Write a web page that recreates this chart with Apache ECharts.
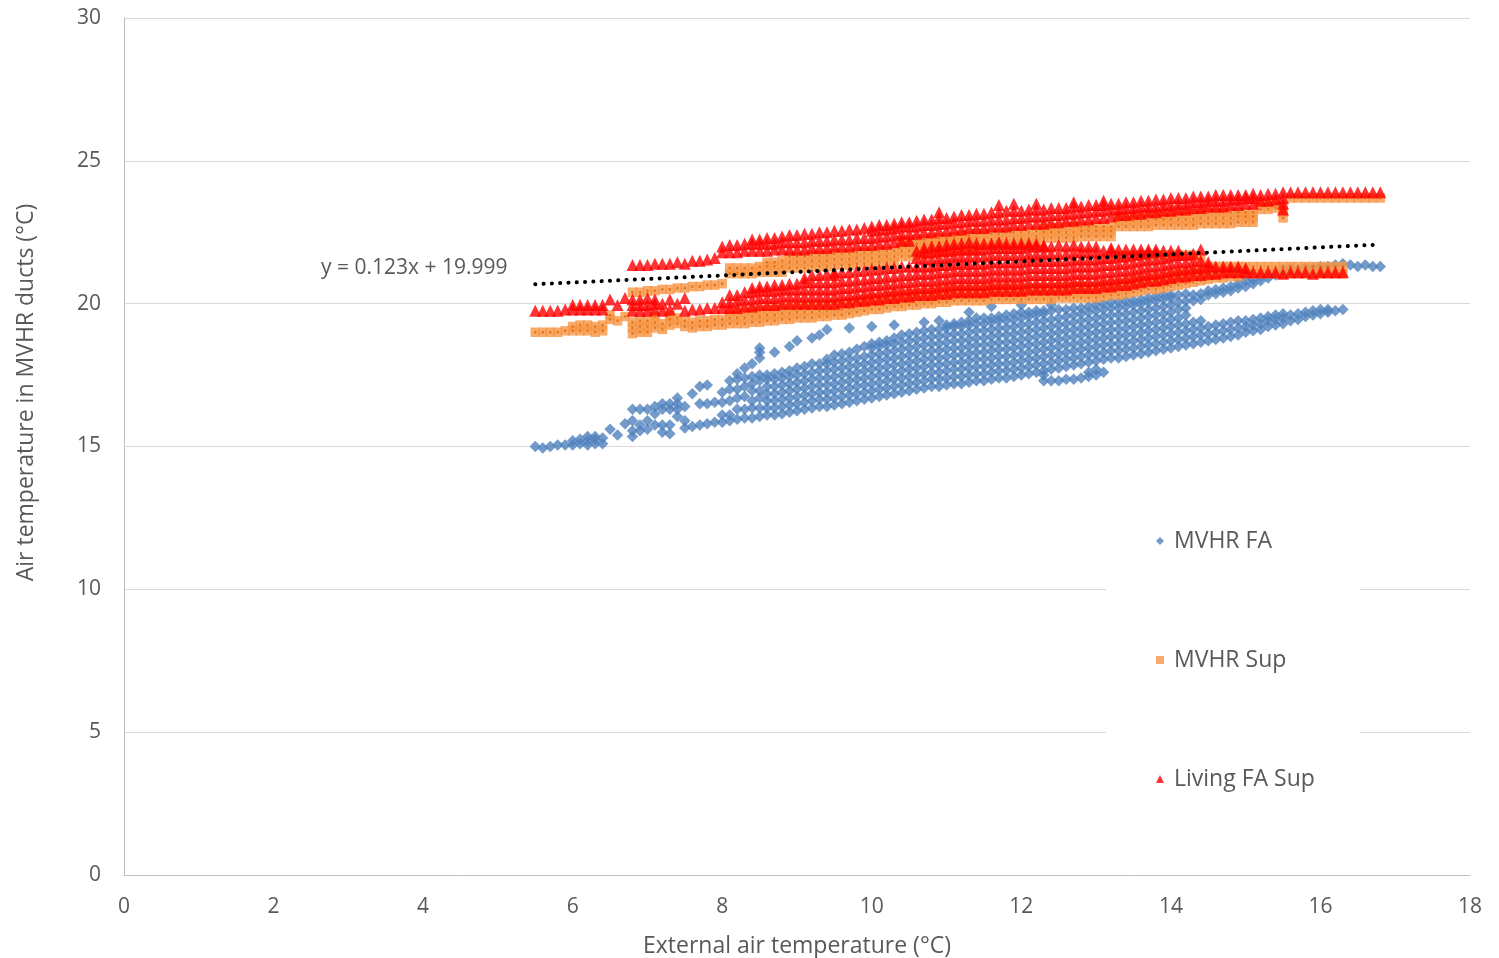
<!DOCTYPE html>
<html><head><meta charset="utf-8">
<script src="https://cdn.jsdelivr.net/npm/echarts@6/dist/echarts.min.js"></script>
<style>html,body{margin:0;padding:0;background:#fff}#c{width:1499px;height:958px}</style>
</head><body><div id="c"></div><script>
// MVHR FA (blue diamonds): [x, [y values]]
const faCols = [
[5.5,[15.0]],[5.6,[14.95]],[5.7,[15.0]],[5.8,[15.05]],[5.9,[15.05]],
[6.0,[15.05,15.2]],[6.1,[15.1,15.25]],[6.2,[15.05,15.2,15.35]],[6.3,[15.1,15.25,15.35]],[6.4,[15.1,15.3]],
[6.5,[15.6]],[6.6,[15.4]],[6.7,[15.8]],
[6.8,[15.35,15.55,15.9,16.3]],[6.9,[15.55,15.75,16.3]],[7.0,[15.6,15.9,16.3]],[7.1,[15.75,16.15,16.4]],[7.2,[15.5,15.75,16.3,16.5]],[7.3,[15.45,15.75,16.3,16.5]],[7.4,[16.05,16.3,16.5,16.7]],[7.5,[15.65,15.9,16.4]],
[7.6,[15.7,16.85]],[7.7,[15.75,16.5,17.1]],[7.8,[15.8,16.5,17.15]],[7.9,[15.85,16.55]],[8.0,[15.85,16.1,16.55,16.9]],
[8.1,[15.9,16.1,16.6,17.0,17.3]],[8.2,[15.95,16.3,16.7,17.0,17.35,17.55]],[8.3,[16.0,16.3,16.75,17.1,17.4,17.75]],[8.4,[16.0,16.35,16.6,16.95,17.2,17.45,17.9]],[8.5,[16.05,16.35,16.7,16.95,17.3,17.5,18.1,18.3,18.45]],
[8.6,[16.1,16.35,16.6,16.85,17.1,17.35,17.5]],
[8.7,[16.1,16.35,16.6,16.85,17.1,17.35,17.55,18.3]],
[8.8,[16.15,16.4,16.65,16.9,17.15,17.4,17.6]],
[8.9,[16.2,16.45,16.7,16.95,17.2,17.45,17.65,18.5]],
[9.0,[16.25,16.5,16.75,17.0,17.25,17.5,17.75,18.7]],
[9.1,[16.3,16.55,16.8,17.05,17.3,17.55,17.8]],
[9.2,[16.35,16.6,16.85,17.1,17.35,17.6,17.9,18.8]],
[9.3,[16.4,16.65,16.9,17.15,17.4,17.65,17.9,18.9]],
[9.4,[16.4,16.65,16.9,17.15,17.4,17.65,17.9,18.05,19.1]],
[9.5,[16.45,16.7,16.95,17.2,17.45,17.7,17.95,18.2]],
[9.6,[16.5,16.75,17.0,17.25,17.5,17.75,18.0,18.25]],
[9.7,[16.55,16.8,17.05,17.3,17.55,17.8,18.05,18.3,19.15]],
[9.8,[16.6,16.85,17.1,17.35,17.6,17.85,18.1,18.4]],
[9.9,[16.65,16.9,17.15,17.4,17.65,17.9,18.15,18.5]],
[10.0,[16.7,16.95,17.2,17.45,17.7,17.95,18.2,18.45,18.6,19.2]],
[10.1,[16.75,17.0,17.25,17.5,17.75,18.0,18.25,18.5,18.65]],
[10.2,[16.8,17.05,17.3,17.55,17.8,18.05,18.3,18.55,18.7]],
[10.3,[16.85,17.1,17.35,17.6,17.85,18.1,18.35,18.6,18.8,19.25]],
[10.4,[16.9,17.15,17.4,17.65,17.9,18.15,18.4,18.65,18.9]],
[10.5,[16.95,17.2,17.45,17.7,17.95,18.2,18.45,18.7,18.95]],
[10.6,[17.0,17.25,17.5,17.75,18.0,18.25,18.5,18.75,19.0]],
[10.7,[17.05,17.3,17.55,17.8,18.05,18.3,18.55,18.8,19.05,19.35]],
[10.8,[17.1,17.35,17.6,17.85,18.1,18.35,18.6,18.85,19.1]],
[10.9,[17.1,17.35,17.6,17.85,18.1,18.35,18.6,18.85,19.1,19.4]],
[11.0,[17.15,17.4,17.65,17.9,18.15,18.4,18.65,18.9,19.15,19.25]],
[11.1,[17.2,17.45,17.7,17.95,18.2,18.45,18.7,18.95,19.2,19.3]],
[11.2,[17.2,17.45,17.7,17.95,18.2,18.45,18.7,18.95,19.2,19.35]],
[11.3,[17.25,17.5,17.75,18.0,18.25,18.5,18.75,19.0,19.25,19.4,19.7]],
[11.4,[17.3,17.55,17.8,18.05,18.3,18.55,18.8,19.05,19.3,19.5]],
[11.5,[17.3,17.55,17.8,18.05,18.3,18.55,18.8,19.05,19.3,19.5]],
[11.6,[17.35,17.6,17.85,18.1,18.35,18.6,18.85,19.1,19.35,19.5,19.9]],
[11.7,[17.4,17.65,17.9,18.15,18.4,18.65,18.9,19.15,19.4,19.55]],
[11.8,[17.4,17.65,17.9,18.15,18.4,18.65,18.9,19.15,19.4,19.6]],
[11.9,[17.45,17.7,17.95,18.2,18.45,18.7,18.95,19.2,19.45,19.65]],
[12.0,[17.5,17.75,18.0,18.25,18.5,18.75,19.0,19.25,19.5,19.7,19.95]],
[12.1,[17.55,17.8,18.05,18.3,18.55,18.8,19.05,19.3,19.55,19.7]],
[12.2,[17.6,17.85,18.1,18.35,18.6,18.85,19.1,19.35,19.6,19.75]],
[12.3,[17.3,17.5,17.65,17.9,18.15,18.4,18.65,18.9,19.15,19.4,19.65,19.75]],
[12.4,[17.3,17.7,17.95,18.2,18.45,18.7,18.95,19.2,19.45,19.75,19.95]],
[12.5,[17.3,17.75,18.0,18.25,18.5,18.75,19.0,19.25,19.5,19.8]],
[12.6,[17.35,17.8,18.05,18.3,18.55,18.8,19.05,19.3,19.55,19.8]],
[12.7,[17.35,17.85,18.1,18.35,18.6,18.85,19.1,19.35,19.6,19.85]],
[12.8,[17.4,17.9,18.15,18.4,18.65,18.9,19.15,19.4,19.65,19.85]],
[12.9,[17.45,17.6,17.95,18.2,18.45,18.7,18.95,19.2,19.45,19.7,19.9]],
[13.0,[17.5,17.7,18.0,18.25,18.5,18.75,19.0,19.25,19.5,19.75,19.95]],
[13.1,[17.6,18.05,18.3,18.55,18.8,19.05,19.3,19.55,19.8,20.0]],
[13.2,[18.1,18.35,18.6,18.85,19.1,19.35,19.6,19.85,20.05]],
[13.3,[18.1,18.35,18.6,18.85,19.1,19.35,19.6,19.85,20.05]],
[13.4,[18.15,18.4,18.65,18.9,19.15,19.4,19.65,19.9,20.1]],
[13.5,[18.2,18.45,18.7,18.95,19.2,19.45,19.7,19.95,20.1]],
[13.6,[18.25,18.5,18.75,19.0,19.25,19.5,19.75,20.0,20.15]],
[13.7,[18.3,18.55,18.8,19.05,19.3,19.55,19.8,20.05,20.2]],
[13.8,[18.35,18.6,18.85,19.1,19.35,19.6,19.85,20.1,20.25]],
[13.9,[18.4,18.65,18.9,19.15,19.4,19.65,19.9,20.15,20.3]],
[14.0,[18.45,18.7,18.95,19.2,19.45,19.7,19.95,20.2,20.3]],
[14.1,[18.5,18.75,19.0,19.25,19.5,19.8,20.05,20.3]],
[14.2,[18.55,18.8,19.05,19.3,19.6,19.85,20.1,20.35]],
[14.3,[18.6,18.85,19.1,19.35,20.1,20.3]],
[14.4,[18.65,18.9,19.15,19.4,20.15,20.35]],
[14.5,[18.7,18.95,19.2,20.3,20.45]],
[14.6,[18.75,19.0,19.25,20.35,20.5]],
[14.7,[18.8,19.05,19.3,20.4,20.55]],
[14.8,[18.85,19.1,19.35,20.45,20.6]],
[14.9,[18.9,19.15,19.4,20.55,20.7]],
[15.0,[19.0,19.2,19.4,20.6,20.8]],
[15.1,[19.05,19.25,19.45,20.7,20.85]],
[15.2,[19.1,19.3,19.5,20.8,20.95]],
[15.3,[19.2,19.4,19.55,20.9,21.05]],
[15.4,[19.25,19.45,19.6,21.0,21.1]],
[15.5,[19.3,19.5,19.65,21.1,21.2]],
[15.6,[19.4,19.6,21.15,21.25]],
[15.7,[19.45,19.65,21.2]],
[15.8,[19.55,19.7,21.25]],
[15.9,[19.6,19.75,21.25]],
[16.0,[19.65,19.8,21.3]],
[16.1,[19.7,19.8,21.3]],
[16.2,[19.75,21.35]],
[16.3,[19.8,21.4]],
[16.4,[21.35]],[16.5,[21.3]],[16.6,[21.35]],[16.7,[21.3]],[16.8,[21.3]]
];

// MVHR Sup (orange squares), lower band
const supLowCols = [
[5.5,[19.0]],[5.6,[19.0]],[5.7,[19.0]],[5.8,[19.0]],[5.9,[19.05]],
[6.0,[19.05,19.2]],[6.1,[19.05,19.25]],[6.2,[19.05,19.25]],[6.3,[19.0,19.2]],[6.4,[19.05,19.25]],
[6.5,[19.45,19.6]],[6.6,[19.4]],[6.7,[19.55]],
[6.8,[18.95,19.15,19.35]],[6.9,[19.0,19.2,19.4]],[7.0,[19.0,19.2,19.4]],[7.1,[19.15,19.35,19.55]],[7.2,[19.1,19.3]],[7.3,[19.25,19.45,19.6]],[7.4,[19.3,19.5]],[7.5,[19.2,19.4]],[7.6,[19.15,19.35]],[7.7,[19.2,19.4]],[7.8,[19.2,19.4]],[7.9,[19.25,19.45]],[8.0,[19.25,19.45]],
[8.1,[19.3,19.5,19.7]],[8.2,[19.3,19.5,19.7]],[8.3,[19.3,19.5,19.7]],[8.4,[19.35,19.55,19.75]],[8.5,[19.35,19.55,19.75]],
[8.6,[19.4,19.6,19.8]],[8.7,[19.4,19.6,19.8]],[8.8,[19.45,19.65,19.85]],[8.9,[19.45,19.65,19.85]],[9.0,[19.5,19.7,19.9]],[9.1,[19.5,19.7,19.9]],[9.2,[19.5,19.7,19.9]],[9.3,[19.55,19.75,19.95]],[9.4,[19.55,19.75,19.95]],[9.5,[19.6,19.8,20.0]],[9.6,[19.6,19.8,20.0]],[9.7,[19.65,19.85,20.05]],[9.8,[19.7,19.9,20.1]],[9.9,[19.75,19.95,20.15]],[10.0,[19.8,20.0,20.2]],[10.1,[19.8,20.0,20.2]],[10.2,[19.85,20.05,20.25]],[10.3,[19.9,20.1,20.3]],[10.4,[19.9,20.1,20.3]],[10.5,[19.95,20.15,20.35]],[10.6,[19.95,20.15,20.35]],[10.7,[20.0,20.2,20.4]],[10.8,[20.0,20.2,20.4]],[10.9,[20.05,20.25,20.45]],[11.0,[20.05,20.25,20.45]],
[11.1,[20.1,20.3,20.5]],[11.2,[20.1,20.3,20.5]],[11.3,[20.1,20.3,20.5]],[11.4,[20.1,20.3,20.5]],[11.5,[20.1,20.3,20.5]],[11.6,[20.15,20.35,20.55]],[11.7,[20.15,20.35,20.55]],[11.8,[20.15,20.35,20.55]],[11.9,[20.15,20.35,20.55]],[12.0,[20.15,20.35,20.55]],[12.1,[20.15,20.35,20.55]],[12.2,[20.15,20.35,20.55]],[12.3,[20.15,20.35,20.55]],[12.4,[20.15,20.35,20.55]],
[12.5,[20.2,20.4,20.6]],[12.6,[20.2,20.4,20.6]],[12.7,[20.2,20.4,20.6]],[12.8,[20.2,20.4,20.6]],[12.9,[20.2,20.4,20.6]],[13.0,[20.2,20.4,20.6]],[13.1,[20.25,20.45,20.65]],[13.2,[20.3,20.5,20.7]],
[13.3,[20.3,20.5,20.7,21.7]],[13.4,[20.35,20.55,20.75,21.7]],[13.5,[20.4,20.6,20.8,21.7]],[13.6,[20.45,20.65,20.85,21.7]],[13.7,[20.5,20.7,20.9,21.7]],[13.8,[20.5,20.7,20.9,21.7]],[13.9,[20.55,20.75,20.95,21.7]],[14.0,[20.6,20.8,21.0,21.7]],[14.1,[20.65,20.85,21.05,21.7]],[14.2,[20.7,20.9,21.1,21.7]],[14.3,[20.75,20.95,21.15,21.7]],[14.4,[20.8,21.0,21.2,21.6]],
[14.5,[20.85,21.05,21.25]],[14.6,[20.9,21.1,21.3]],[14.7,[20.9,21.1,21.3]],[14.8,[20.95,21.15,21.3]],[14.9,[20.95,21.15,21.3]],
[15.0,[21.05,21.3]],[15.1,[21.05,21.3]],[15.2,[21.05,21.3]],[15.3,[21.05,21.3]],[15.4,[21.05,21.3]],[15.5,[21.05,21.3]],[15.6,[21.05,21.3]],[15.7,[21.05,21.3]],[15.8,[21.05,21.3]],[15.9,[21.05,21.3]],[16.0,[21.05,21.3]],[16.1,[21.05,21.3]],[16.2,[21.05,21.3]],[16.3,[21.05,21.3]]
];

// MVHR Sup (orange squares), upper band
const supHighCols = [
[6.8,[20.4]],[6.9,[20.4]],[7.0,[20.45]],[7.1,[20.45]],[7.2,[20.5]],[7.3,[20.5]],[7.4,[20.55]],[7.5,[20.55]],[7.6,[20.6]],[7.7,[20.6]],[7.8,[20.65]],[7.9,[20.65]],[8.0,[20.7]],
[8.1,[21.05,21.25]],[8.2,[21.05,21.25]],[8.3,[21.05,21.25]],[8.4,[21.05,21.25]],[8.5,[21.1,21.3]],[8.6,[21.1,21.3,21.45]],[8.7,[21.1,21.3,21.45]],[8.8,[21.1,21.3,21.5]],
[8.9,[21.25,21.45,21.65]],[9.0,[21.25,21.45,21.65]],[9.1,[21.25,21.45,21.65]],[9.2,[21.3,21.5,21.7]],[9.3,[21.3,21.5,21.7]],[9.4,[21.3,21.5,21.7]],[9.5,[21.35,21.55,21.75]],[9.6,[21.35,21.55,21.75]],[9.7,[21.35,21.55,21.75]],[9.8,[21.4,21.6,21.8]],[9.9,[21.4,21.6,21.8]],[10.0,[21.4,21.6,21.8]],[10.1,[21.45,21.65,21.85]],[10.2,[21.45,21.65,21.85]],[10.3,[21.45,21.65,21.85]],
[10.4,[21.65,21.85,22.05,22.2]],[10.5,[21.65,21.85,22.05,22.2]],[10.6,[21.7,21.9,22.1,22.25]],[10.7,[21.7,21.9,22.1,22.25]],[10.8,[21.75,21.95,22.15,22.3]],[10.9,[21.75,21.95,22.15,22.3]],[11.0,[21.8,22.0,22.2,22.3]],[11.1,[21.8,22.0,22.2,22.35]],[11.2,[21.85,22.05,22.25,22.4]],[11.3,[21.85,22.05,22.25,22.4]],[11.4,[21.9,22.1,22.3,22.45]],
[11.5,[22.05,22.25,22.45]],[11.6,[22.05,22.25,22.45]],[11.7,[22.05,22.25,22.45]],[11.8,[22.1,22.3,22.5]],[11.9,[22.1,22.3,22.5]],[12.0,[22.1,22.3,22.5]],[12.1,[22.1,22.3,22.5]],[12.2,[22.15,22.35,22.55]],
[12.3,[22.3,22.5,22.65]],[12.4,[22.3,22.5,22.65]],[12.5,[22.3,22.5,22.65]],[12.6,[22.3,22.5,22.7]],[12.7,[22.3,22.5,22.7]],[12.8,[22.35,22.55,22.7]],[12.9,[22.35,22.55,22.7]],[13.0,[22.35,22.55,22.7]],[13.1,[22.35,22.55,22.7]],[13.2,[22.35,22.55,22.7]],
[13.3,[22.7,22.9,23.05]],[13.4,[22.7,22.9,23.05]],[13.5,[22.7,22.9,23.05]],[13.6,[22.7,22.9,23.1]],[13.7,[22.7,22.9,23.1]],[13.8,[22.75,22.95,23.1]],[13.9,[22.75,22.95,23.1]],[14.0,[22.75,22.95,23.1]],[14.1,[22.75,22.95,23.15]],[14.2,[22.75,22.95,23.15]],[14.3,[22.75,22.95,23.15]],
[14.4,[22.8,23.0,23.2]],[14.5,[22.8,23.0,23.2]],[14.6,[22.8,23.0,23.2]],[14.7,[22.8,23.0,23.2]],[14.8,[22.8,23.0,23.2]],[14.9,[22.85,23.05,23.2]],[15.0,[22.85,23.05,23.2]],[15.1,[22.85,23.05,23.2]],
[15.2,[23.3,23.5]],[15.3,[23.3,23.5]],[15.4,[23.35,23.5]],[15.5,[23.0,23.2,23.4]],
[15.6,[23.7]],[15.7,[23.7]],[15.8,[23.7]],[15.9,[23.7]],[16.0,[23.7]],[16.1,[23.7]],[16.2,[23.7]],[16.3,[23.7]],[16.4,[23.7]],[16.5,[23.7]],[16.6,[23.7]],[16.7,[23.7]],[16.8,[23.7]]
];

// Living FA Sup (red triangles), lower band
const livLowCols = [
[5.5,[19.75]],[5.6,[19.75]],[5.7,[19.75]],[5.8,[19.75]],[5.9,[19.8]],
[6.0,[19.8,19.95]],[6.1,[19.8,19.95]],[6.2,[19.8,19.95]],[6.3,[19.8,19.95]],[6.4,[19.8,19.95]],
[6.5,[20.15]],[6.6,[19.95]],[6.7,[20.2]],
[6.8,[19.75,19.95,20.15]],[6.9,[19.75,19.95,20.15]],[7.0,[19.75,19.95,20.2]],[7.1,[19.8,20.0,20.15]],[7.2,[19.75,20.0]],[7.3,[19.8,20.15]],[7.4,[20.0]],[7.5,[19.75,20.2]],[7.6,[19.8]],[7.7,[19.8]],[7.8,[19.85]],[7.9,[19.85]],
[8.0,[19.85,20.05]],[8.1,[19.85,20.05,20.3]],[8.2,[19.85,20.1,20.3]],[8.3,[19.9,20.15,20.4]],[8.4,[19.9,20.15,20.4,20.55]],[8.5,[19.95,20.2,20.45,20.6]],[8.6,[19.95,20.2,20.45,20.6]],[8.7,[19.95,20.2,20.45,20.65]],[8.8,[20.0,20.25,20.5,20.65]],[8.9,[20.0,20.25,20.5,20.7]],[9.0,[20.0,20.25,20.5,20.7]],
[9.1,[20.0,20.25,20.5,20.75,20.9]],[9.2,[20.0,20.25,20.5,20.75,21.0]],[9.3,[20.0,20.25,20.5,20.75,21.0]],[9.4,[20.0,20.25,20.5,20.75,21.05]],[9.5,[20.0,20.25,20.5,20.75,21.0,21.1]],[9.6,[20.05,20.3,20.55,20.8,21.1]],[9.7,[20.05,20.3,20.55,20.8,21.1]],[9.8,[20.1,20.35,20.6,20.85,21.15]],[9.9,[20.1,20.35,20.6,20.85,21.15]],[10.0,[20.15,20.4,20.65,20.9,21.2]],[10.1,[20.15,20.4,20.65,20.9,21.2]],[10.2,[20.2,20.45,20.7,20.95,21.25]],[10.3,[20.2,20.45,20.7,20.95,21.25]],[10.4,[20.25,20.5,20.75,21.0,21.3]],[10.5,[20.25,20.5,20.75,21.0,21.3]],
[10.6,[20.3,20.55,20.8,21.05,21.3,21.6,21.85]],[10.7,[20.3,20.55,20.8,21.05,21.3,21.55,21.8,21.95]],[10.8,[20.3,20.55,20.8,21.05,21.3,21.55,21.8,22.0]],[10.9,[20.35,20.6,20.85,21.1,21.35,21.6,21.85,22.0]],[11.0,[20.35,20.6,20.85,21.1,21.35,21.6,21.85,22.05]],
[11.1,[20.4,20.65,20.9,21.15,21.4,21.65,21.9,22.1]],[11.2,[20.4,20.65,20.9,21.15,21.4,21.65,21.9,22.1]],[11.3,[20.4,20.65,20.9,21.15,21.4,21.65,21.9,22.15]],[11.4,[20.4,20.65,20.9,21.15,21.4,21.65,21.9,22.1]],[11.5,[20.4,20.65,20.9,21.15,21.4,21.65,21.9,22.1]],
[11.6,[20.45,20.7,20.95,21.2,21.45,21.7,21.95,22.1]],[11.7,[20.45,20.7,20.95,21.2,21.45,21.7,21.95,22.15]],[11.8,[20.45,20.7,20.95,21.2,21.45,21.7,21.95,22.1]],[11.9,[20.45,20.7,20.95,21.2,21.45,21.7,21.95,22.1]],[12.0,[20.45,20.7,20.95,21.2,21.45,21.7,21.95,22.1]],
[12.1,[20.5,20.75,21.0,21.25,21.5,21.75,22.0,22.1]],[12.2,[20.5,20.75,21.0,21.25,21.5,21.75,22.0,22.1]],[12.3,[20.5,20.75,21.0,21.25,21.5,21.75,22.0,22.05]],[12.4,[20.5,20.75,21.0,21.25,21.5,21.75,22.0]],[12.5,[20.5,20.75,21.0,21.25,21.5,21.75,22.05]],
[12.6,[20.5,20.75,21.0,21.25,21.5,21.75,22.0]],[12.7,[20.55,20.8,21.05,21.3,21.55,21.8,22.05]],[12.8,[20.55,20.8,21.05,21.3,21.55,21.8,22.0]],[12.9,[20.55,20.8,21.05,21.3,21.55,21.8,22.0]],[13.0,[20.55,20.8,21.05,21.3,21.55,21.8,22.0]],
[13.1,[20.6,20.85,21.1,21.35,21.6,21.85]],[13.2,[20.6,20.85,21.1,21.35,21.6,21.85,21.95]],[13.3,[20.65,20.9,21.15,21.4,21.65,21.9]],[13.4,[20.65,20.9,21.15,21.4,21.65,21.9]],[13.5,[20.7,20.95,21.2,21.45,21.7,21.9]],
[13.6,[20.75,21.0,21.25,21.5,21.75,21.9]],[13.7,[20.8,21.05,21.3,21.55,21.8,21.9]],[13.8,[20.8,21.05,21.3,21.55,21.8,21.9]],[13.9,[20.85,21.1,21.35,21.6,21.85]],[14.0,[20.9,21.15,21.4,21.65,21.85]],
[14.1,[20.95,21.2,21.45,21.7,21.85]],[14.2,[20.95,21.2,21.45,21.7]],[14.3,[21.0,21.25,21.5,21.75]],[14.4,[21.0,21.25,21.5,21.9]],[14.5,[21.05,21.3,21.45]],
[14.6,[21.05,21.3]],[14.7,[21.1,21.3]],[14.8,[21.1,21.3]],[14.9,[21.1,21.3]],[15.0,[21.1,21.25]],
[15.1,[21.1]],[15.2,[21.1]],[15.3,[21.1]],[15.4,[21.1]],[15.5,[21.05]],[15.6,[21.1]],[15.7,[21.1]],[15.8,[21.1]],[15.9,[21.05]],[16.0,[21.1]],[16.1,[21.1]],[16.2,[21.1]],[16.3,[21.1]]
];

// Living FA Sup (red triangles), upper band
const livHighCols = [
[6.8,[21.35]],[6.9,[21.35]],[7.0,[21.35]],[7.1,[21.4]],[7.2,[21.4]],[7.3,[21.4]],[7.4,[21.45]],[7.5,[21.4]],[7.6,[21.5]],[7.7,[21.5]],[7.8,[21.55]],[7.9,[21.6]],
[8.0,[21.8,22.0]],[8.1,[21.8,22.05]],[8.2,[21.8,22.05]],[8.3,[21.85,22.1]],[8.4,[21.85,22.1,22.25]],[8.5,[21.85,22.1,22.25]],[8.6,[21.85,22.1,22.3]],[8.7,[21.9,22.1,22.3]],[8.8,[21.9,22.15,22.35]],[8.9,[21.9,22.15,22.4]],
[9.0,[21.9,22.15,22.4]],[9.1,[21.9,22.15,22.45]],[9.2,[21.95,22.2,22.45]],[9.3,[21.95,22.2,22.5]],[9.4,[21.95,22.2,22.5]],[9.5,[22.0,22.25,22.55]],[9.6,[22.0,22.25,22.55]],[9.7,[22.0,22.25,22.6]],[9.8,[22.05,22.3,22.6]],[9.9,[22.05,22.3,22.65]],
[10.0,[22.05,22.3,22.55,22.7]],[10.1,[22.1,22.35,22.6,22.75]],[10.2,[22.1,22.35,22.6,22.75]],[10.3,[22.15,22.4,22.65,22.8]],[10.4,[22.2,22.45,22.7,22.85]],[10.5,[22.2,22.45,22.7,22.85]],
[10.6,[22.45,22.7,22.9]],[10.7,[22.5,22.75,22.95]],[10.8,[22.5,22.75,22.95]],[10.9,[22.55,22.8,23.0,23.2]],[11.0,[22.55,22.8,23.0]],[11.1,[22.6,22.85,23.05]],[11.2,[22.6,22.85,23.1]],[11.3,[22.65,22.9,23.1]],[11.4,[22.65,22.9,23.15]],[11.5,[22.65,22.9,23.15]],
[11.6,[22.7,22.95,23.2]],[11.7,[22.7,22.95,23.2,23.45]],[11.8,[22.7,22.95,23.25]],[11.9,[22.75,23.0,23.25,23.5]],[12.0,[22.75,23.0,23.25]],[12.1,[22.8,23.05,23.3]],[12.2,[22.8,23.05,23.3,23.5]],[12.3,[22.8,23.05,23.3]],[12.4,[22.85,23.1,23.35]],[12.5,[22.85,23.1,23.35]],
[12.6,[22.9,23.15,23.35]],[12.7,[22.9,23.15,23.4,23.55]],[12.8,[22.95,23.2,23.4]],[12.9,[22.95,23.2,23.45]],[13.0,[23.0,23.25,23.45]],[13.1,[23.0,23.25,23.45,23.6]],[13.2,[23.05,23.3,23.5]],[13.3,[23.1,23.3,23.5]],[13.4,[23.1,23.35,23.55]],[13.5,[23.15,23.35,23.55]],
[13.6,[23.15,23.4,23.6]],[13.7,[23.2,23.4,23.6]],[13.8,[23.2,23.4,23.65]],[13.9,[23.25,23.45,23.65]],[14.0,[23.25,23.45,23.7]],[14.1,[23.3,23.5,23.7]],[14.2,[23.3,23.5,23.7]],[14.3,[23.35,23.55,23.75]],[14.4,[23.35,23.55,23.75]],[14.5,[23.4,23.6,23.75]],
[14.6,[23.4,23.6,23.8]],[14.7,[23.4,23.6,23.8]],[14.8,[23.45,23.65,23.8]],[14.9,[23.45,23.65,23.8]],[15.0,[23.5,23.7,23.8]],[15.1,[23.5,23.7,23.85]],[15.2,[23.6,23.8]],[15.3,[23.6,23.85]],[15.4,[23.65,23.85]],[15.5,[23.3,23.5,23.7,23.9]],
[15.6,[23.9]],[15.7,[23.9]],[15.8,[23.9]],[15.9,[23.9]],[16.0,[23.9]],[16.1,[23.9]],[16.2,[23.9]],[16.3,[23.9]],[16.4,[23.9]],[16.5,[23.9]],[16.6,[23.9]],[16.7,[23.9]],[16.8,[23.9]]
];

// Linear trendline y = 0.123x + 19.999, drawn between its two end points
const trendLine = [[5.5, 20.68], [16.8, 22.07]];
const trendLabel = 'y = 0.123x + 19.999';
const xTickMax = 18, yTickMax = 30;

function expand(...sets) {
  const out = [];
  sets.forEach(cols => cols.forEach(([x, ys]) => ys.forEach(y => out.push([x, y]))));
  return out;
}
const faData = expand(faCols);
const supData = expand(supLowCols, supHighCols);
const livData = expand(livLowCols, livHighCols);

const FONT = '"Open Sans", "Liberation Sans", sans-serif';
const GREY = '#595959';
const chart = echarts.init(document.getElementById('c'), null, {renderer: 'canvas'});
chart.setOption({
  animation: false,
  backgroundColor: '#fff',
  textStyle: {fontFamily: FONT},
  grid: {left: 124, right: 29, top: 18, bottom: 83, containLabel: false, outerBoundsMode: 'none'},
  xAxis: {
    type: 'value', min: 0, max: xTickMax, interval: 2,
    name: 'External air temperature (°C)', nameLocation: 'middle', nameGap: 60,
    nameTextStyle: {fontSize: 23, color: GREY, fontFamily: FONT},
    axisLine: {show: true, onZero: false, lineStyle: {color: '#bfbfbf', width: 1}},
    axisTick: {show: false}, splitLine: {show: false},
    axisLabel: {fontSize: 21, color: GREY, margin: 22, fontFamily: FONT}
  },
  yAxis: {
    type: 'value', min: 0, max: yTickMax, interval: 5,
    name: 'Air temperature in MVHR ducts (°C)', nameLocation: 'middle', nameGap: 86,
    nameTextStyle: {fontSize: 23, color: GREY, fontFamily: FONT, padding: [0, 0, 0, 108]},
    axisLine: {show: true, lineStyle: {color: '#bfbfbf', width: 1}},
    axisTick: {show: false},
    splitLine: {show: true, lineStyle: {color: '#d9d9d9', width: 1}},
    axisLabel: {fontSize: 21, color: GREY, margin: 23, fontFamily: FONT}
  },
  legend: {
    orient: 'vertical', left: 1106, top: 477,
    padding: [50, 45, 50, 50], itemGap: 91, itemWidth: 8, itemHeight: 8,
    backgroundColor: '#fff',
    data: ['MVHR FA', 'MVHR Sup', 'Living FA Sup'],
    textStyle: {fontSize: 23, color: GREY, lineHeight: 28, fontFamily: FONT, padding: [0, 0, 0, 5]}
  },
  graphic: [{
    type: 'text', left: 321, top: 258, z: 10,
    style: {text: trendLabel, fontSize: 21, fill: GREY, fontFamily: FONT}
  }],
  series: [
    {name: 'MVHR FA', type: 'scatter', symbol: 'diamond', symbolSize: 11.5,
     itemStyle: {color: '#4F81BD'}, data: faData},
    {name: 'MVHR Sup', type: 'scatter', symbol: 'rect', symbolSize: 9.5,
     itemStyle: {color: '#F79646'}, data: supData},
    {name: 'MVHR Sup centre', type: 'scatter', symbol: 'rect', symbolSize: 2.5, silent: true,
     itemStyle: {color: '#E46C0A'}, data: supData},
    {name: 'Living FA Sup', type: 'scatter', symbol: 'triangle', symbolSize: 12,
     itemStyle: {color: '#FF0000'}, data: livData},
    {name: 'Linear trend', type: 'line', symbol: 'none', silent: true, z: 5,
     lineStyle: {color: '#000', width: 4, type: [0.1, 8.2], cap: 'round'}, data: trendLine}
  ]
});
</script></body></html>
